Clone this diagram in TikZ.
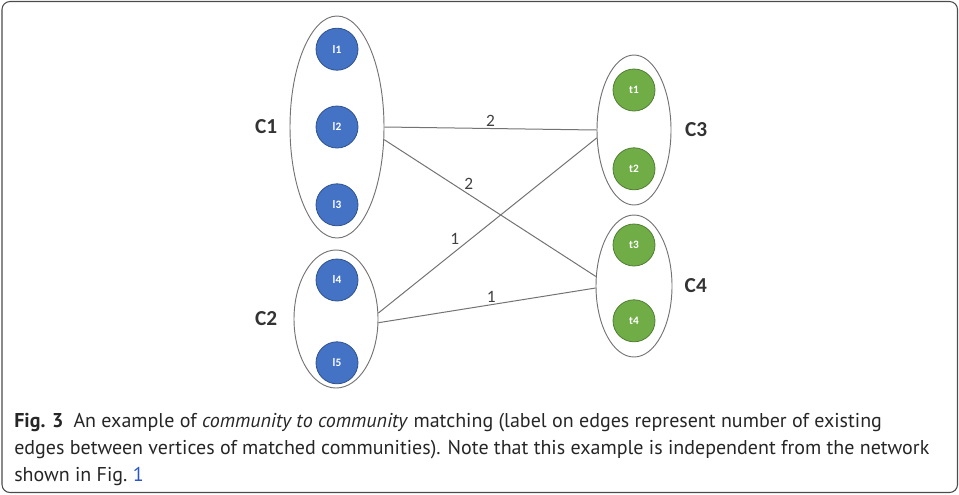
\documentclass[tikz,border=0pt]{standalone}
\usepackage{fontspec}
\setmainfont{PT Sans}
\newfontfamily\diagfont{Carlito}
\usetikzlibrary{positioning,shapes.geometric}
\definecolor{nodeblue}{HTML}{4472C4}
\definecolor{nodeblueline}{HTML}{2F528F}
\definecolor{nodegreen}{HTML}{70AD47}
\definecolor{nodegreenline}{HTML}{507E32}
\definecolor{linkblue}{HTML}{2A56C6}

\begin{document}
\begin{tikzpicture}[x=0.75pt,y=-0.75pt,
	comm/.style={ellipse, draw=black!55, line width=0.7pt, inner sep=0pt},
	lnode/.style={circle, fill=nodeblue, draw=nodeblueline, line width=0.6pt, minimum size=31.5pt, inner sep=0pt, text=white, font=\diagfont\bfseries\fontsize{8.5}{8.5}\selectfont},
	tnode/.style={circle, fill=nodegreen, draw=nodegreenline, line width=0.6pt, minimum size=31.5pt, inner sep=0pt, text=white, font=\diagfont\bfseries\fontsize{8.5}{8.5}\selectfont},
	clabel/.style={inner sep=0pt, text=black!80, font=\diagfont\bfseries\fontsize{16}{16}\selectfont},
	elabel/.style={inner sep=1pt, text=black!75, font=\diagfont\fontsize{13}{13}\selectfont},
	link/.style={draw=black!55, line width=0.75pt},
	caption/.style={anchor=base west, inner sep=0pt, text=black!85, font=\fontsize{15}{18}\selectfont}]
	\useasboundingbox (0,0) rectangle (959,494);
	\draw[rounded corners=6pt, black!70, line width=0.8pt] (2,1.5) rectangle (957.5,492.5);

	% communities
	\node[comm, minimum width=70.5pt, minimum height=166.5pt] (C1) at (337,127) {};
	\node[comm, minimum width=63pt, minimum height=103.5pt] (C2) at (336,319) {};
	\node[comm, minimum width=55.5pt, minimum height=112.5pt] (C3) at (634,130) {};
	\node[comm, minimum width=57pt, minimum height=106.5pt] (C4) at (634,286) {};

	\node[clabel, left=9pt of C1] (C1lab) {C1};
	\node[clabel, left=12pt of C2] (C2lab) {C2};
	\node[clabel, right=10pt of C3] (C3lab) {C3};
	\node[clabel, right=9pt of C4] (C4lab) {C4};

	% vertices
	\node[lnode] (l2) at (C1) {l2};
	\node[lnode, above=26.25pt of l2] (l1) {l1};
	\node[lnode, below=26.25pt of l2] (l3) {l3};
	\node[lnode] (l4) at (337,280) {l4};
	\node[lnode, below=30pt of l4] (l5) {l5};

	\node[tnode] (t1) at (634,90) {t1};
	\node[tnode, below=27pt of t1] (t2) {t2};
	\node[tnode] (t3) at (634,245) {t3};
	\node[tnode, below=24.75pt of t3] (t4) {t4};

	% matching
	\draw[link] (C1.east) -- node[elabel, above] (e13) {2} (C3.west);
	\draw[link] (C1.-15) -- node[elabel, pos=0.4, above=2pt] (e14) {2} (C4.166);
	\draw[link] (C2.8) -- node[elabel, pos=0.35, above=4pt] (e23) {1} (C3.192);
	\draw[link] (C2.-5) -- node[elabel, pos=0.52, above] (e24) {1} (C4.183);

	% caption
	\node[caption] (cap1) at (14,427) {\textbf{Fig. 3}\enspace An example of \textit{community to community} matching (label on edges represent number of existing};
	\node[caption] (cap2) at (14,454) {edges between vertices of matched communities). Note that this example is independent from the network};
	\node[caption] (cap3) at (14,481) {shown in Fig.~\textcolor{linkblue}{1}};
\end{tikzpicture}
\end{document}
